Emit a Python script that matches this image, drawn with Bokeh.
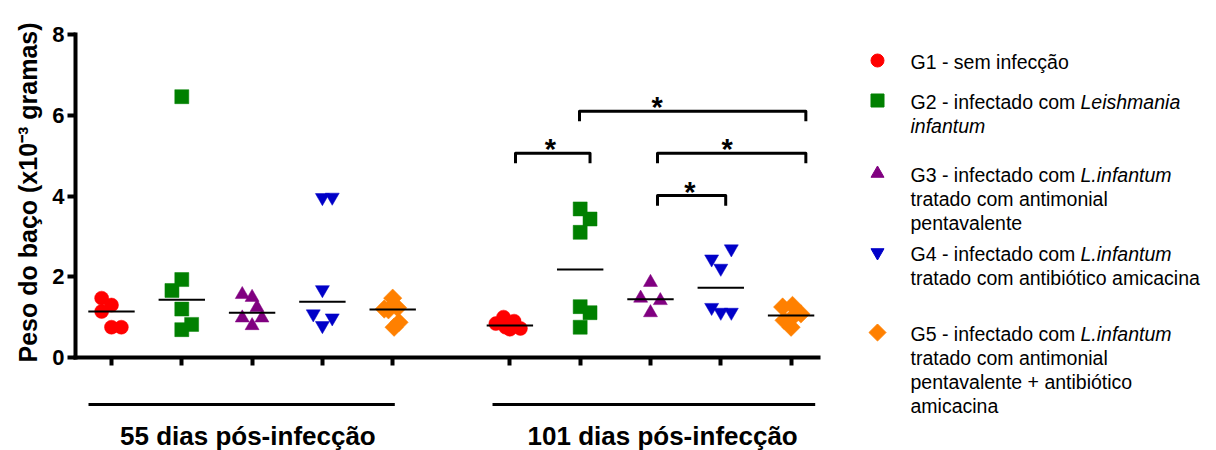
import numpy as np
from bokeh.plotting import figure
from bokeh.models import Range1d, FixedTicker
from bokeh.layouts import row, column
from bokeh.embed import file_html
from bokeh.resources import INLINE
from bokeh.core.properties import value

# ---------------------------------------------------------------- data
groups = ["G1", "G2", "G3", "G4", "G5"]
timepoints = ["55 dias pós-infecção", "101 dias pós-infecção"]
y_title = "Peso do baço (x10⁻³   gramas)"

# spleen weight (x10^-3 g), 55 days post infection
g1_55 = [1.47, 1.30, 1.14, 0.75, 0.75]
g2_55 = [6.46, 1.93, 1.66, 1.20, 0.82, 0.69]
g3_55 = [1.56, 1.49, 1.24, 0.98, 0.98, 0.79]
g4_55 = [3.96, 3.97, 1.68, 1.08, 0.98, 0.79]
g5_55 = [1.47, 1.23, 1.20, 1.18, 0.87, 0.75]

# spleen weight (x10^-3 g), 101 days post infection
g1_101 = [1.00, 0.90, 0.84, 0.75, 0.72, 0.70]
g2_101 = [3.68, 3.43, 3.10, 1.26, 1.11, 0.75]
g3_101 = [1.86, 1.47, 1.41, 1.11]
g4_101 = [2.69, 2.44, 2.21, 1.24, 1.12, 1.12]
g5_101 = [1.29, 1.25, 1.08, 1.00, 0.92, 0.75]

y_ticks = [0, 2, 4, 6, 8]

# significant comparisons at 101 days (p < 0.05)
comparisons = [("G1", "G2"), ("G2", "G5"), ("G3", "G5"), ("G3", "G4")]

legend_head = ["G1 - sem infecção", "G2 - infectado com", "G3 - infectado com",
               "G4 - infectado com", "G5 - infectado com"]
legend_species = ["", "Leishmania", "L.infantum", "L.infantum", "L.infantum"]
legend_more = [[],
               [("infantum", "italic")],
               [("tratado com antimonial", "normal"), ("pentavalente", "normal")],
               [("tratado com antibiótico amicacina", "normal")],
               [("tratado com antimonial", "normal"), ("pentavalente + antibiótico", "normal"),
                ("amicacina", "normal")]]

# ---------------------------------------------------------------- layout / style
series = {
    0: [g1_55, g2_55, g3_55, g4_55, g5_55],
    1: [g1_101, g2_101, g3_101, g4_101, g5_101],
}
# horizontal scatter of the points inside each column (category units)
jitter = {
    0: [[-0.14, 0, -0.14, 0, 0.14],
        [0, 0, -0.14, 0, 0.14, 0],
        [-0.14, 0, 0.07, -0.14, 0.14, 0],
        [0, 0.14, 0, -0.13, 0.14, 0],
        [0, 0.07, -0.12, -0.06, 0.09, 0.02]],
    1: [[-0.09, 0.06, -0.2, -0.06, 0.15, 0],
        [0, 0.14, 0, 0, 0.14, 0],
        [0, -0.14, 0.14, 0],
        [0.15, -0.13, 0, -0.13, 0, 0.15],
        [0.02, -0.12, 0.14, 0.02, -0.1, 0]],
}
colors = ["#ff0000", "#008000", "#800080", "#0000c8", "#ff8000"]
markers = ["circle", "square", "triangle", "inverted_triangle", "square"]
angles = [0, 0, 0, 0, np.pi / 4]
sizes = [14, 14, 14, 14, 13]

block_start = [0.0, 5.667]           # first column of each time block
pos = {(t, i): block_start[t] + i for t in (0, 1) for i in range(5)}

FONT = "Liberation Sans"

xr = Range1d(-0.512, 10.057)
yr = Range1d(0, 8)

p = figure(width=785, height=370, x_range=xr, y_range=yr,
           output_backend="svg", toolbar_location=None,
           min_border_left=30, min_border_right=12,
           min_border_top=34, min_border_bottom=13)
p.outline_line_color = None
p.grid.visible = False
p.background_fill_color = "white"
p.border_fill_color = "white"

# axes
for ax in (p.xaxis, p.yaxis):
    ax.axis_line_width = 4
    ax.axis_line_color = "black"
    ax.axis_line_cap = "square"
    ax.major_tick_line_width = 4
    ax.major_tick_line_color = "black"
    ax.major_tick_in = 0
    ax.major_tick_out = 8
    ax.minor_tick_line_color = None

p.yaxis.ticker = FixedTicker(ticks=y_ticks)
p.yaxis.major_label_text_font = FONT
p.yaxis.major_label_text_font_style = "bold"
p.yaxis.major_label_text_font_size = "22px"
p.yaxis.major_label_text_color = "black"
p.yaxis.major_label_standoff = 3

# category axis: ticks only, the groups are named in the legend
p.xaxis.ticker = FixedTicker(ticks=[pos[k] for k in sorted(pos)])
p.xaxis.major_label_text_font_size = "1px"
p.xaxis.major_label_text_color = None
p.xaxis.major_label_standoff = 0

# points and median lines
for t in (0, 1):
    for i in range(5):
        vals = np.array(series[t][i])
        xs = pos[(t, i)] + np.array(jitter[t][i])
        p.scatter(xs, vals, marker=markers[i], size=sizes[i], angle=angles[i],
                  fill_color=colors[i], line_color=colors[i], line_width=0.5)
for t in (0, 1):
    for i in range(5):
        med = float(np.median(series[t][i]))
        c = pos[(t, i)]
        p.segment(x0=[c - 0.33], y0=[med], x1=[c + 0.33], y1=[med],
                  line_color="black", line_width=2)

# significance brackets (101 days)
gidx = {g: k for k, g in enumerate(groups)}
bracket_y = [5.06, 6.10, 5.06, 4.01]
bracket_off = [(0.08, 0.14), (-0.01, 0.21), (0.10, 0.21), (0.10, 0.07)]
star_x = [6.245, 7.762, 8.757, 8.226]
leg = 0.25
bxs, bys = [], []
for (a, b), y, (oa, ob) in zip(comparisons, bracket_y, bracket_off):
    xa = pos[(1, gidx[a])] + oa
    xb = pos[(1, gidx[b])] + ob
    bxs.append([xa, xa, xb, xb])
    bys.append([y - leg, y, y, y - leg])
p.multi_line(bxs, bys, line_color="black", line_width=3, line_join="round")
p.text(x=star_x, y=[y + 0.10 for y in bracket_y], text=["*"] * len(star_x),
       text_font=value(FONT), text_font_size=value("29px"), text_font_style="bold",
       text_align="center", text_baseline="middle", text_color="black")

# ---------------------------------------------------------------- y axis title
yt = figure(width=45, height=450, x_range=Range1d(0, 45), y_range=Range1d(450, 0),
            x_axis_type=None, y_axis_type=None,
            output_backend="svg", toolbar_location=None, min_border=0)
yt.outline_line_color = None
yt.grid.visible = False
yt.text(x=[27], y=[185], text=[y_title], angle=np.pi / 2,
        text_font=value(FONT), text_font_size=value("25px"), text_font_style="bold",
        text_align="center", text_baseline="middle", text_color="black")

# ---------------------------------------------------------------- time-block labels
s = figure(width=785, height=80, x_range=xr, y_range=Range1d(80, 0),
           x_axis_type=None, y_axis_type=None,
           output_backend="svg", toolbar_location=None,
           min_border_left=30, min_border_right=12,
           min_border_top=0, min_border_bottom=0)
s.outline_line_color = None
s.grid.visible = False
line_span = [(-0.327, 4.03), (5.42, 10.01)]
label_x = [1.94, 7.84]
s.segment(x0=[a for a, b in line_span], y0=[34, 34],
          x1=[b for a, b in line_span], y1=[34, 34],
          line_color="black", line_width=3)
s.text(x=label_x, y=[65.5, 65.5], text=timepoints,
       text_font=value(FONT), text_font_size=value("26px"), text_font_style="bold",
       text_align="center", text_baseline="middle", text_color="black")

# ---------------------------------------------------------------- legend
lg = figure(width=386, height=450, x_range=Range1d(830, 1216), y_range=Range1d(450, 0),
            x_axis_type=None, y_axis_type=None,
            output_backend="svg", toolbar_location=None, min_border=0)
lg.outline_line_color = None
lg.grid.visible = False

first_line_y = [61, 101, 174, 253, 333]
line_gap = 24
marker_x = 877
text_x = 910
species_dx = 170
leg_sizes = [13, 13, 13, 13, 12]

for i in range(5):
    y0 = first_line_y[i]
    lg.scatter([marker_x], [y0 - 1], marker=markers[i], size=leg_sizes[i], angle=-angles[i],
               fill_color=colors[i], line_color=colors[i])
    tx, ty, tt, st = [text_x], [y0], [legend_head[i]], ["normal"]
    if legend_species[i]:
        tx.append(text_x + species_dx); ty.append(y0)
        tt.append(legend_species[i]); st.append("italic")
    for k, (txt, style) in enumerate(legend_more[i]):
        tx.append(text_x); ty.append(y0 + line_gap * (k + 1))
        tt.append(txt); st.append(style)
    for x_, y_, t_, s_ in zip(tx, ty, tt, st):
        lg.text(x=[x_], y=[y_], text=[t_], text_font=value(FONT),
                text_font_size=value("19.5px"), text_font_style=s_,
                text_align="left", text_baseline="middle", text_color="black")

layout = row(yt, column(p, s), lg)
open("out.html", "w").write(file_html(layout, INLINE))
